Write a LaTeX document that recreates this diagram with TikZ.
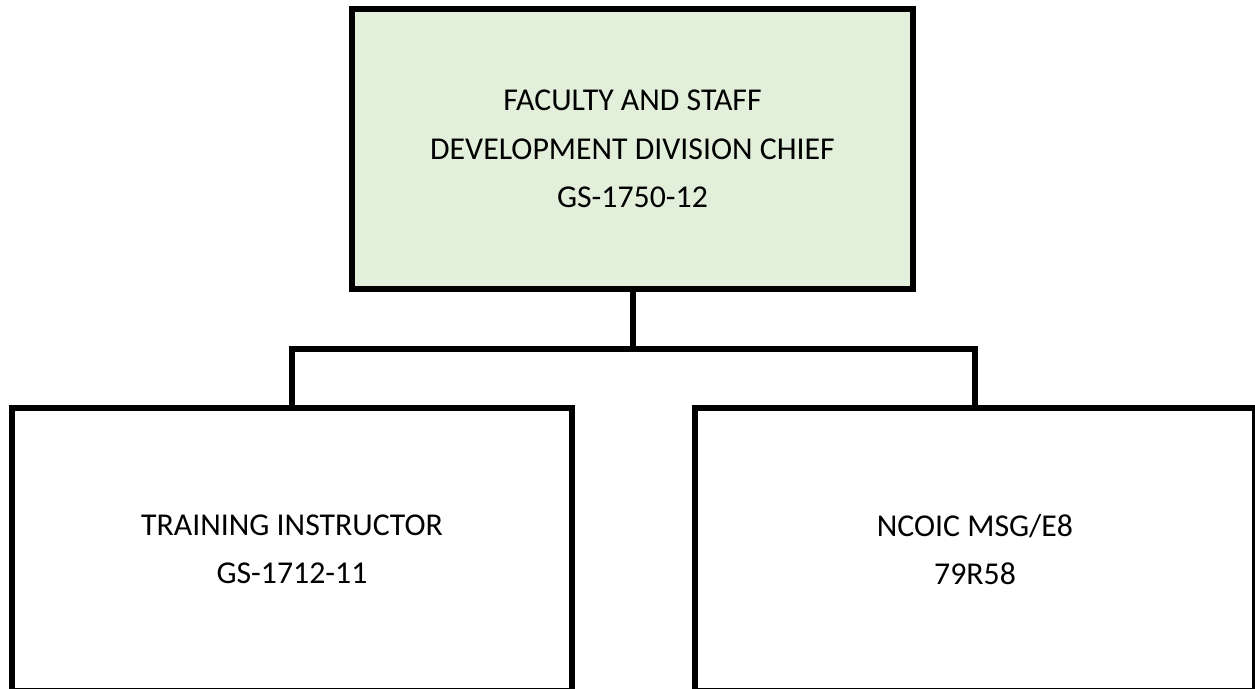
\documentclass[tikz,border=0pt]{standalone}
\usepackage{fontspec}
\setmainfont{Carlito}
\usepackage{tikz}

\definecolor{chiefgreen}{RGB}{226,239,218}

\begin{document}
\begin{tikzpicture}
	 [x=0.02cm,y=-0.02cm,line width=0.12cm,
	  every node/.style={rectangle,draw=black,line width=0.12cm,align=center,inner sep=0pt,
	    font=\fontsize{18.1}{27.6}\selectfont},
	  post/.style={minimum width=11.2cm,minimum height=5.66cm}]
	\useasboundingbox (0,0) rectangle (1255,689);

	\node[post,minimum width=11.22cm,minimum height=5.62cm,fill=chiefgreen] (chief) at (632.5,149) {FACULTY AND STAFF\\DEVELOPMENT DIVISION CHIEF\\GS-1750-12};

	  \node[post] (instr) at (292,549.5) {TRAINING INSTRUCTOR\\GS-1712-11};
	  \node[post] (ncoic) at (975,549.5) {NCOIC MSG/E8\\79R58};

	  \coordinate (bus) at (632.5,349);

	\draw (chief) -- (bus);

	\foreach \from/\to in {bus/instr,bus/ncoic}
    \draw (\from) -| (\to);

\end{tikzpicture}
\end{document}
